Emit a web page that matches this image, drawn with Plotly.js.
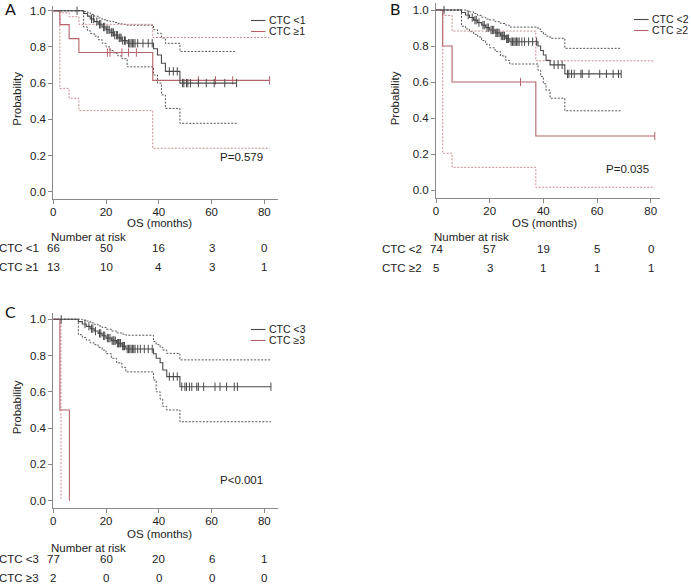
<!DOCTYPE html>
<html>
<head>
<meta charset="utf-8">
<script src="https://cdn.plot.ly/plotly-3.0.1.min.js"></script>
<style>html,body{margin:0;padding:0;background:#fff;}#chart{width:691px;height:585px;}</style>
</head>
<body>
<div id="chart"></div>
<script>
// ---------------- DATA ----------------
// Panel A: CTC <1 (group 0) vs CTC >=1 (group 1)
const aTimes0 = [0, 11.5, 13, 14, 15.5, 17, 18.5, 20, 21.5, 23, 24.5, 26, 28, 38, 39.5, 41, 42.5, 48, 69.5];
const aSurv0  = [1, 0.985, 0.97, 0.955, 0.94, 0.925, 0.91, 0.895, 0.88, 0.865, 0.85, 0.835, 0.82, 0.79, 0.755, 0.71, 0.665, 0.60, 0.60];
const aUpper0 = [1, 0.995, 0.99, 0.98, 0.97, 0.96, 0.95, 0.945, 0.94, 0.935, 0.93, 0.925, 0.92, 0.895, 0.875, 0.85, 0.82, 0.775, 0.775];
const aLower0 = [1, 0.91, 0.89, 0.875, 0.86, 0.84, 0.82, 0.80, 0.78, 0.765, 0.75, 0.735, 0.69, 0.645, 0.60, 0.535, 0.46, 0.378, 0.378];
const aCens0  = [9, 14.5, 15.2, 16.5, 17.5, 18, 19, 19.5, 20.3, 20.7, 21.2, 22, 22.3, 22.8, 23.3, 24, 24.3, 25, 25.3, 25.7, 26.3, 27, 27.3, 28.5, 29, 29.5, 30, 30.5, 31, 32, 34, 36, 37.5, 44, 45.5, 47, 49, 49.5, 50.5, 51, 52, 55, 58, 61, 65, 69.5];
const aTimes1 = [0, 2.5, 6, 9.7, 37.7, 82];
const aSurv1  = [1, 0.923, 0.846, 0.769, 0.615, 0.615];
const aUpper1 = [1, 0.989, 0.967, 0.925, 0.852, 0.852];
const aLower1 = [1, 0.571, 0.516, 0.448, 0.24, 0.24];
const aCens1  = [20.5, 21.5, 26, 28.5, 31.5, 55, 61.5, 68, 82];

// Panel B: CTC <2 vs CTC >=2
const bTimes0 = [0, 9.5, 11, 12.5, 14, 15.5, 17, 18.5, 20, 22, 24, 26, 27.5, 38, 39, 40, 41, 42.5, 48, 69];
const bSurv0  = [1, 0.986, 0.972, 0.958, 0.944, 0.93, 0.916, 0.902, 0.889, 0.873, 0.856, 0.84, 0.824, 0.80, 0.775, 0.75, 0.72, 0.695, 0.645, 0.645];
const bUpper0 = [1, 1, 0.995, 0.99, 0.98, 0.97, 0.96, 0.95, 0.945, 0.935, 0.925, 0.915, 0.905, 0.895, 0.88, 0.865, 0.855, 0.843, 0.787, 0.787];
const bLower0 = [1, 0.91, 0.895, 0.88, 0.865, 0.85, 0.83, 0.81, 0.79, 0.77, 0.745, 0.72, 0.70, 0.665, 0.63, 0.59, 0.555, 0.51, 0.44, 0.44];
const bCens0  = [3, 12, 13.5, 14.5, 15, 16, 17.5, 18, 19, 19.5, 20.5, 21, 21.5, 22.3, 22.7, 23, 23.5, 24.3, 24.7, 25, 25.5, 26.3, 26.7, 27, 28, 28.5, 29, 29.5, 30, 30.5, 31, 32, 33, 34.5, 36, 37.5, 44, 45.5, 47, 49, 49.5, 50.5, 51.5, 54, 54.5, 57, 61, 63.5, 66, 68, 69];
const bTimes1 = [0, 2.5, 6, 37.2, 81.5];
const bSurv1  = [1, 0.8, 0.6, 0.3, 0.3];
const bUpper1 = [1, 0.97, 0.883, 0.718, 0.718];
const bLower1 = [1, 0.204, 0.126, 0.015, 0.015];
const bCens1  = [31.5, 81.5];

// Panel C: CTC <3 vs CTC >=3
const cTimes0 = [0, 9.5, 11, 12.5, 14, 15.5, 17, 18.5, 20, 22, 24, 26, 27.5, 38, 39, 40.5, 41.5, 43, 48, 82.5];
const cSurv0  = [1, 0.987, 0.974, 0.961, 0.948, 0.935, 0.922, 0.909, 0.896, 0.882, 0.868, 0.852, 0.836, 0.81, 0.785, 0.76, 0.72, 0.684, 0.628, 0.628];
const cUpper0 = [1, 1, 0.995, 0.99, 0.98, 0.972, 0.963, 0.955, 0.945, 0.935, 0.925, 0.918, 0.912, 0.877, 0.86, 0.845, 0.83, 0.812, 0.776, 0.776];
const cLower0 = [1, 0.915, 0.9, 0.885, 0.87, 0.86, 0.845, 0.83, 0.81, 0.785, 0.76, 0.735, 0.71, 0.665, 0.60, 0.56, 0.52, 0.50, 0.435, 0.435];
const cCens0  = [3, 12, 13.5, 14.5, 15, 16, 17.5, 18, 19, 19.5, 20.5, 21, 21.5, 22.3, 22.7, 23, 23.5, 24.3, 24.7, 25, 25.5, 26.3, 26.7, 27, 28, 28.5, 29, 29.5, 30, 30.5, 31, 32, 33, 34.5, 36, 37.5, 44, 45.5, 47, 48.7, 49.9, 50.5, 51.6, 52.5, 54.4, 55, 57, 61.3, 63.2, 65.7, 68.6, 69.8, 82.5];
const cTimes1 = [0, 2.5, 6.1];
const cSurv1  = [1, 0.5, 0];
const cLowerT1 = [0, 2.9];
const cLower1  = [1, 0.01];

// Risk tables
const riskTimes = [0, 20, 40, 60, 80];
const aRisk0 = [66, 50, 16, 3, 0];
const aRisk1 = [13, 10, 4, 3, 1];
const bRisk0 = [74, 57, 19, 5, 0];
const bRisk1 = [5, 3, 1, 1, 1];
const cRisk0 = [77, 60, 20, 6, 1];
const cRisk1 = [2, 0, 0, 0, 0];
const aLabels = ["CTC <1", "CTC \u22651"];
const bLabels = ["CTC <2", "CTC \u22652"];
const cLabels = ["CTC <3", "CTC \u22653"];
const pTexts = ["P=0.579", "P=0.035", "P<0.001"];
const panelLetters = ["A", "B", "C"];
const xTickVals = [0, 20, 40, 60, 80];
const yTickVals = [0, 0.2, 0.4, 0.6, 0.8, 1.0];

// ---------------- STYLE ----------------
const W = 691, H = 585;
const FONT = "Liberation Sans, Arial, Helvetica, sans-serif";
const TXT = "#222222";
const AX = "#8a8a8a";
const GREY = "#4a4a4a";
const RED = "#b5626a";
const GREY_D = "#555555";
const RED_D = "#c98e92";
const DASH = "2px,1.5px";

function stepAt(ts, ss, t) {
  let v = ss[0];
  for (let i = 0; i < ts.length; i++) { if (ts[i] <= t) v = ss[i]; }
  return v;
}
function py(p) { return 1 - p / H; }

const traces = [];
function addPanel(xa, ya, g0, g1) {
  [g0, g1].forEach((g, k) => {
    const dc = k === 0 ? GREY_D : RED_D;
    if (g.upper) traces.push({x: g.ut || g.t, y: g.upper, xaxis: xa, yaxis: ya, mode: 'lines', line: {shape: 'hv', color: dc, width: 1, dash: DASH}, hoverinfo: 'skip', showlegend: false});
    if (g.lower) traces.push({x: g.lt || g.t, y: g.lower, xaxis: xa, yaxis: ya, mode: 'lines', line: {shape: 'hv', color: dc, width: 1, dash: DASH}, hoverinfo: 'skip', showlegend: false});
  });
  [g1, g0].forEach((g) => {
    const c = g === g0 ? GREY : RED;
    traces.push({x: g.t, y: g.s, xaxis: xa, yaxis: ya, mode: 'lines', line: {shape: 'hv', color: c, width: 1.1}, name: g.name, showlegend: false});
    if (g.cens && g.cens.length) {
      traces.push({x: g.cens, y: g.cens.map(t => stepAt(g.t, g.s, t)), xaxis: xa, yaxis: ya, mode: 'markers',
        marker: {symbol: 'line-ns-open', size: 6, color: c, line: {width: 1, color: c}}, hoverinfo: 'skip', showlegend: false});
    }
  });
}
addPanel('x', 'y',
  {t: aTimes0, s: aSurv0, upper: aUpper0, lower: aLower0, cens: aCens0, name: aLabels[0]},
  {t: aTimes1, s: aSurv1, upper: aUpper1, lower: aLower1, cens: aCens1, name: aLabels[1]});
addPanel('x2', 'y2',
  {t: bTimes0, s: bSurv0, upper: bUpper0, lower: bLower0, cens: bCens0, name: bLabels[0]},
  {t: bTimes1, s: bSurv1, upper: bUpper1, lower: bLower1, cens: bCens1, name: bLabels[1]});
addPanel('x3', 'y3',
  {t: cTimes0, s: cSurv0, upper: cUpper0, lower: cLower0, cens: cCens0, name: cLabels[0]},
  {t: cTimes1, s: cSurv1, lower: cLower1, lt: cLowerT1, cens: [], name: cLabels[1]});

// Panel geometry (pixels)
const panels = [
  {xa: 'x', ya: 'y', left: 53.3, right: 278.3, top: 6.2, bottom: 199.3, xr: [0, 85.3], yr: [-0.042, 1.025],
   labels: aLabels, risk: [aRisk0, aRisk1], nY: 237.3, rY: [248.3, 266.7], titleY: 222.5, probX: 16.7, probY: 99,
   pX: 62.6, pY: 0.193, letterX: 2.5, letterY: 9, legX: 251, legY: [20, 31]},
  {xa: 'x2', ya: 'y2', left: 436, right: 660, top: 2.8, bottom: 198.3, xr: [0, 83.46], yr: [-0.046, 1.04],
   labels: bLabels, risk: [bRisk0, bRisk1], nY: 237.3, rY: [249.3, 267.7], titleY: 223.5, probX: 395, probY: 98.3,
   pX: 62.7, pY: 0.115, letterX: 387.5, letterY: 8.5, legX: 634, legY: [19, 30]},
  {xa: 'x3', ya: 'y3', left: 53.3, right: 278.3, top: 312.9, bottom: 508.3, xr: [0, 85.3], yr: [-0.042, 1.035],
   labels: cLabels, risk: [cRisk0, cRisk1], nY: 548.3, rY: [559.3, 577.7], titleY: 534, probX: 16.7, probY: 407.5,
   pX: 62.6, pY: 0.114, letterX: 2.5, letterY: 311, legX: 251, legY: [329, 340]}
];

const layout = {
  width: W, height: H, margin: {l: 0, r: 0, t: 0, b: 0},
  paper_bgcolor: '#fff', plot_bgcolor: 'rgba(0,0,0,0)',
  font: {family: FONT, color: TXT, size: 11.5},
  showlegend: false, annotations: [], shapes: []
};

panels.forEach((p, i) => {
  const xk = i === 0 ? 'xaxis' : 'xaxis' + (i + 1);
  const yk = i === 0 ? 'yaxis' : 'yaxis' + (i + 1);
  layout[xk] = {domain: [p.left / W, p.right / W], range: p.xr, anchor: p.ya, tickmode: 'array', tickvals: xTickVals,
    ticks: 'outside', ticklen: 4, tickwidth: 1, tickcolor: AX, showline: true, linecolor: AX, linewidth: 1,
    ticklabelstandoff: -2,
    showgrid: false, zeroline: false, tickfont: {size: 11.5, color: TXT, family: FONT}, fixedrange: true};
  layout[yk] = {domain: [py(p.bottom), py(p.top)], range: p.yr, anchor: p.xa, tickmode: 'array', tickvals: yTickVals,
    tickformat: '.1f', ticks: 'outside', ticklen: 4, tickwidth: 1, tickcolor: AX, showline: true, linecolor: AX, linewidth: 1,
    showgrid: false, zeroline: false, tickfont: {size: 11.5, color: TXT, family: FONT}, fixedrange: true};

  const A = layout.annotations;
  A.push({text: panelLetters[i], xref: 'paper', yref: 'paper', x: p.letterX / W, y: py(p.letterY), xanchor: 'left', yanchor: 'middle',
    showarrow: false, font: {family: 'Lato, Open Sans, sans-serif', size: 16, color: '#111'}});
  A.push({text: 'OS (months)', xref: p.xa, yref: 'paper', x: 40.3, y: py(p.titleY), xanchor: 'center', yanchor: 'middle', showarrow: false, font: {size: 11.5}});
  A.push({text: 'Probability', xref: 'paper', yref: 'paper', x: p.probX / W, y: py(p.probY), xanchor: 'center', yanchor: 'middle', textangle: -90, showarrow: false, font: {size: 11.5}});
  A.push({text: pTexts[i], xref: p.xa, yref: p.ya, x: p.pX, y: p.pY, xanchor: 'left', yanchor: 'middle', showarrow: false, font: {size: 11.5}});
  A.push({text: 'Number at risk', xref: p.xa, yref: 'paper', x: 0, xshift: -4, y: py(p.nY), xanchor: 'left', yanchor: 'middle', showarrow: false, font: {size: 11.5}});
  p.risk.forEach((row, r) => {
    A.push({text: p.labels[r], xref: p.xa, yref: 'paper', x: 0, xshift: -12.5, y: py(p.rY[r]), xanchor: 'right', yanchor: 'middle', showarrow: false, font: {size: 11.5}});
    row.forEach((v, j) => {
      A.push({text: String(v), xref: p.xa, yref: 'paper', x: riskTimes[j], y: py(p.rY[r]), xanchor: 'center', yanchor: 'middle', showarrow: false, font: {size: 11.5}});
    });
  });
  [GREY, RED].forEach((c, r) => {
    layout.shapes.push({type: 'line', xref: 'paper', yref: 'paper', x0: p.legX / W, x1: (p.legX + 14.5) / W, y0: py(p.legY[r] + 0.5), y1: py(p.legY[r] + 0.5), line: {color: c, width: 1.1}});
    A.push({text: p.labels[r], xref: 'paper', yref: 'paper', x: (p.legX + 16) / W, y: py(p.legY[r]), xanchor: 'left', yanchor: 'middle', showarrow: false, font: {size: 10.5}});
  });
});

Plotly.newPlot('chart', traces, layout, {staticPlot: true, displayModeBar: false});
</script>
</body>
</html>
